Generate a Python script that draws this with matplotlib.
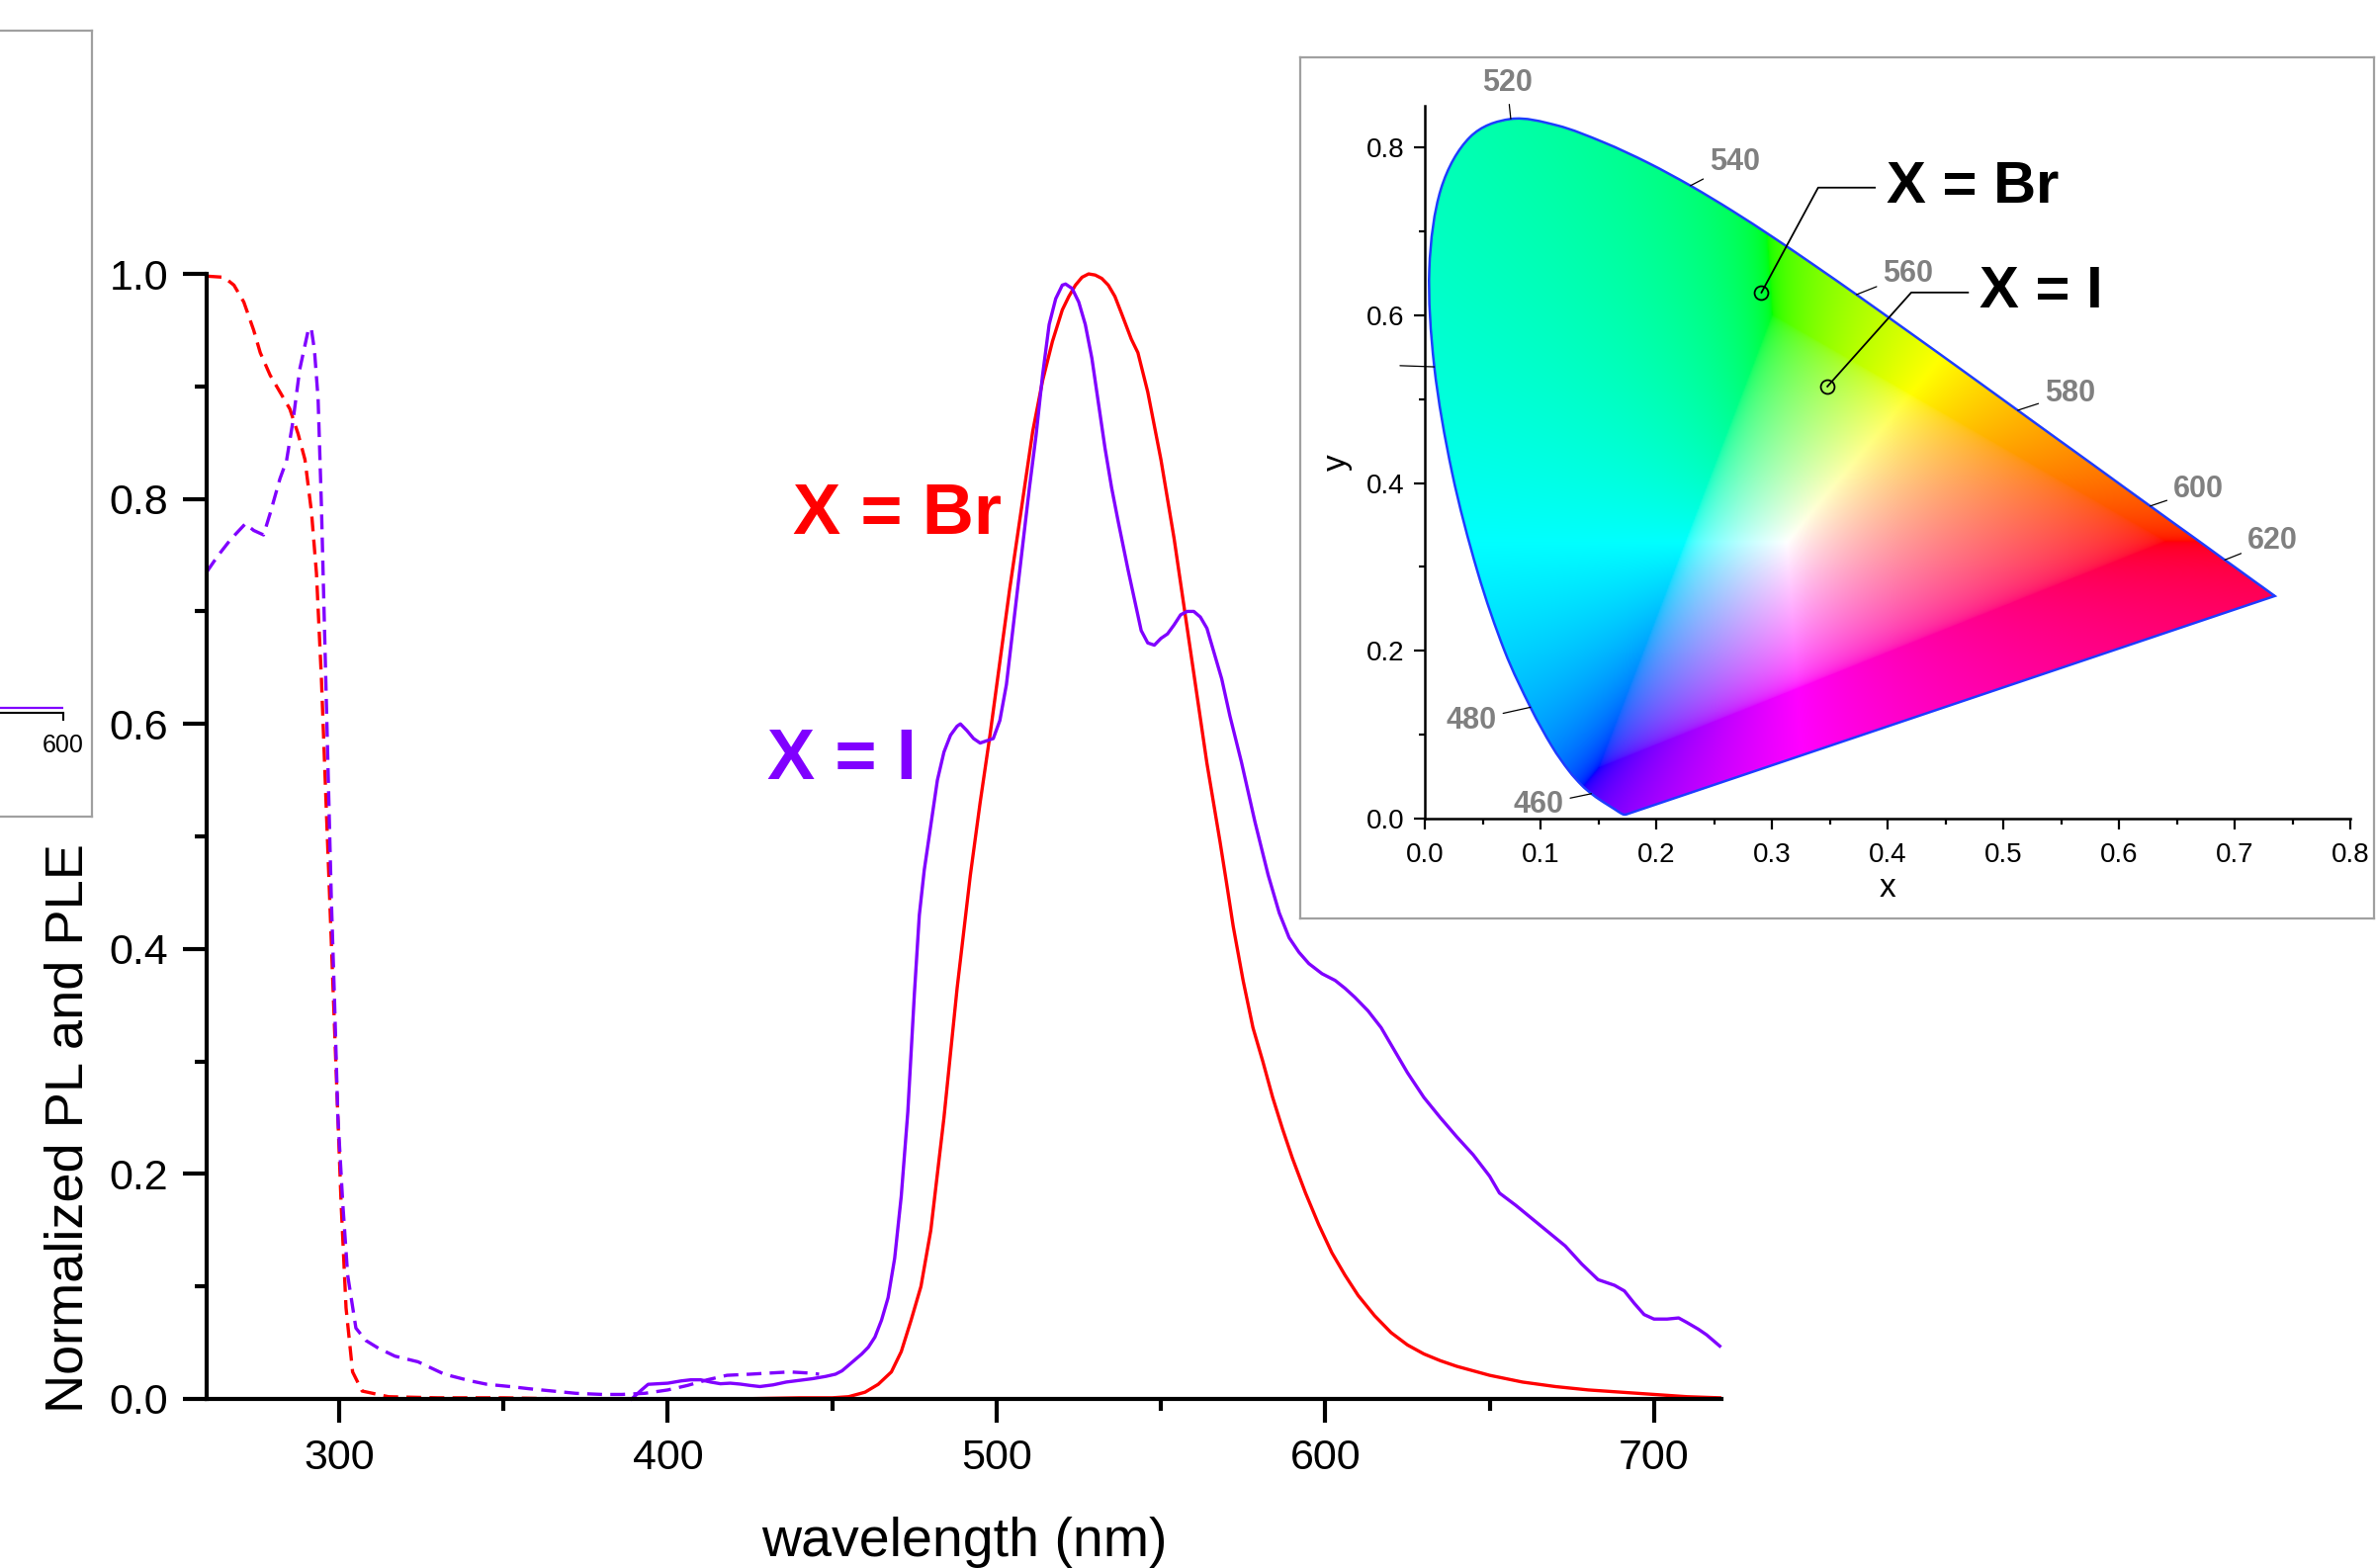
import numpy as np
import matplotlib
matplotlib.use("Agg")
import matplotlib.pyplot as plt
from matplotlib.patches import PathPatch
from matplotlib.path import Path
from matplotlib.ticker import MultipleLocator, FormatStrFormatter

plt.rcParams['font.family'] = ['Liberation Sans', 'DejaVu Sans']

RED = '#ff0000'
PURPLE = '#8000ff'

# ---------------- main data ----------------
pl_br_wl = [390, 400, 420, 440, 450, 455, 460, 464, 468, 471, 474, 477, 480, 484, 488, 492, 495, 498,
            501, 504, 508, 511, 514, 517, 520, 522, 524, 526, 528, 530, 532, 534, 536, 538, 541, 543,
            546, 548, 550, 552, 554, 556, 558, 560, 562, 564, 566, 568, 570, 572, 575, 578, 581, 584,
            587, 590, 594, 598, 602, 606, 610, 615, 620, 625, 630, 635, 640, 645, 650, 660, 670, 680,
            690, 700, 710, 720]
pl_br = [0.0, 0.0, 0.0, 0.001, 0.001, 0.002, 0.006, 0.013, 0.024, 0.042, 0.07, 0.10, 0.15, 0.25, 0.365,
         0.465, 0.53, 0.59, 0.655, 0.72, 0.80, 0.86, 0.905, 0.94, 0.968, 0.98, 0.99, 0.997, 1.0, 0.999,
         0.996, 0.99, 0.98, 0.965, 0.942, 0.93, 0.895, 0.865, 0.835, 0.80, 0.765, 0.725, 0.685, 0.645,
         0.605, 0.565, 0.53, 0.495, 0.458, 0.42, 0.372, 0.33, 0.30, 0.268, 0.24, 0.214, 0.183, 0.155,
         0.13, 0.11, 0.092, 0.074, 0.059, 0.048, 0.04, 0.034, 0.029, 0.025, 0.021, 0.015, 0.011, 0.008,
         0.006, 0.004, 0.002, 0.001]

pl_i_wl = [389, 392, 394, 397, 400, 404, 407, 410, 413, 416, 419, 422, 425, 428, 432, 436, 440, 444, 448,
           451, 453, 455, 457, 459, 461, 463, 465, 467, 469, 471, 473, 475, 476.5, 478, 480, 482, 484, 486,
           488, 489, 491, 493, 495, 497, 499, 501, 503, 505, 508, 510, 512, 514, 516, 518, 520, 521, 523,
           525, 527, 529, 531, 533, 535, 537, 540, 542, 544, 546, 548, 550, 552, 554, 556, 558, 560, 562,
           564, 566, 568.5, 571, 574.5, 578.6, 582.6, 586, 589, 592, 595, 599, 603, 606, 609, 613, 617,
           621, 625, 630, 635, 640, 645, 650, 653, 658, 663, 668, 673, 678, 683, 688, 691, 694, 697, 700,
           704, 707.5, 710, 713.5, 716, 720]
pl_i = [0.0, 0.008, 0.013, 0.0135, 0.014, 0.016, 0.017, 0.017, 0.015, 0.0135, 0.014, 0.0132, 0.012, 0.011,
        0.0125, 0.015, 0.0165, 0.018, 0.020, 0.022, 0.025, 0.03, 0.035, 0.04, 0.046, 0.055, 0.07, 0.09,
        0.125, 0.18, 0.255, 0.36, 0.43, 0.47, 0.51, 0.55, 0.575, 0.59, 0.598, 0.6, 0.594, 0.587, 0.583,
        0.585, 0.587, 0.603, 0.635, 0.685, 0.76, 0.81, 0.856, 0.91, 0.955, 0.978, 0.99, 0.991, 0.987,
        0.975, 0.955, 0.925, 0.885, 0.845, 0.81, 0.78, 0.737, 0.71, 0.683, 0.672, 0.67, 0.676, 0.68,
        0.688, 0.697, 0.70, 0.70, 0.695, 0.685, 0.665, 0.64, 0.607, 0.566, 0.513, 0.466, 0.432, 0.41,
        0.397, 0.387, 0.378, 0.372, 0.365, 0.357, 0.345, 0.33, 0.31, 0.29, 0.268, 0.25, 0.233, 0.217,
        0.198, 0.183, 0.172, 0.16, 0.148, 0.136, 0.12, 0.106, 0.101, 0.096, 0.085, 0.075, 0.071, 0.071,
        0.072, 0.068, 0.062, 0.057, 0.047]

ple_br_wl = [259.7, 265, 268, 271, 274, 276, 279, 282, 285, 287.5, 289.6, 291.6, 293.1, 294.6, 296.1,
             297.6, 299.1, 300.6, 302.1, 304.1, 307, 315, 330, 350, 370, 390]
ple_br = [0.998, 0.997, 0.99, 0.975, 0.95, 0.93, 0.91, 0.895, 0.88, 0.858, 0.835, 0.788, 0.734, 0.641,
          0.524, 0.408, 0.291, 0.174, 0.081, 0.024, 0.007, 0.002, 0.001, 0.001, 0.0, 0.0]

ple_i_wl = [259.7, 263, 267, 271.5, 274, 277, 279, 282, 284, 286, 288, 290.6, 291.5, 292.5, 293.6, 294.6,
            295.6, 296.6, 297.6, 298.6, 299.6, 301.1, 302.6, 305.1, 308.1, 312, 317, 324, 332, 340, 345,
            352, 358, 365, 372, 380, 386, 393, 400, 406, 412, 418, 425, 431, 437, 443, 446]
ple_i = [0.735, 0.749, 0.764, 0.778, 0.772, 0.768, 0.787, 0.818, 0.834, 0.87, 0.915, 0.95, 0.952, 0.932,
         0.889, 0.795, 0.679, 0.563, 0.447, 0.354, 0.252, 0.174, 0.11, 0.063, 0.052, 0.045, 0.038, 0.033,
         0.022, 0.016, 0.013, 0.011, 0.009, 0.007, 0.005, 0.004, 0.004, 0.005, 0.008, 0.012, 0.017,
         0.021, 0.022, 0.023, 0.024, 0.023, 0.022]

# ---------------- CIE 1931 spectral locus ----------------
cie_wl = list(range(380, 705, 5))
cie_x = [0.1741, 0.1740, 0.1738, 0.1736, 0.1733, 0.1730, 0.1726, 0.1721, 0.1714, 0.1703, 0.1689, 0.1669,
         0.1644, 0.1611, 0.1566, 0.1510, 0.1440, 0.1355, 0.1241, 0.1096, 0.0913, 0.0687, 0.0454, 0.0235,
         0.0082, 0.0039, 0.0139, 0.0389, 0.0743, 0.1142, 0.1547, 0.1929, 0.2296, 0.2658, 0.3016, 0.3373,
         0.3731, 0.4087, 0.4441, 0.4788, 0.5125, 0.5448, 0.5752, 0.6029, 0.6270, 0.6482, 0.6658, 0.6801,
         0.6915, 0.7006, 0.7079, 0.7140, 0.7190, 0.7230, 0.7260, 0.7283, 0.7300, 0.7311, 0.7320, 0.7327,
         0.7334, 0.7340, 0.7344, 0.7346, 0.7347]
cie_y = [0.0050, 0.0050, 0.0049, 0.0049, 0.0048, 0.0048, 0.0048, 0.0048, 0.0051, 0.0058, 0.0069, 0.0086,
         0.0109, 0.0138, 0.0177, 0.0227, 0.0297, 0.0399, 0.0578, 0.0868, 0.1327, 0.2007, 0.2950, 0.4127,
         0.5384, 0.6548, 0.7502, 0.8120, 0.8338, 0.8262, 0.8059, 0.7816, 0.7543, 0.7243, 0.6923, 0.6589,
         0.6245, 0.5896, 0.5547, 0.5202, 0.4866, 0.4544, 0.4242, 0.3965, 0.3725, 0.3514, 0.3340, 0.3197,
         0.3083, 0.2993, 0.2920, 0.2859, 0.2809, 0.2770, 0.2740, 0.2717, 0.2700, 0.2689, 0.2680, 0.2673,
         0.2666, 0.2660, 0.2656, 0.2654, 0.2653]

locus_labels = ['460', '480', '', '520', '540', '560', '580', '600', '620']
locus_label_wl = [460, 480, 500, 520, 540, 560, 580, 600, 620]
locus_label_x = [0.098, 0.040, -0.025, 0.071, 0.268, 0.418, 0.558, 0.669, 0.733]
locus_label_y = [0.0165, 0.117, 0.540, 0.877, 0.782, 0.649, 0.507, 0.392, 0.331]

sample_names = ['X = Br', 'X = I']
sample_x = [0.291, 0.348]
sample_y = [0.627, 0.515]
sample_label_x = [0.399, 0.4795]
sample_label_y = [0.752, 0.627]

# ---------------- figure ----------------
fig = plt.figure(figsize=(24.03, 15.86), dpi=100)

# remnant of a neighbouring panel on the left edge
frame_l = fig.add_axes([-0.01, 0.4792, 0.0487, 0.5013])
frame_l.set_xticks([]); frame_l.set_yticks([])
for s in frame_l.spines.values():
    s.set_color('#a0a0a0'); s.set_linewidth(1.6)
ax_r = fig.add_axes([-0.05, 0.5454, 0.07663, 0.1])
ax_r.patch.set_alpha(0)
ax_r.plot([500, 600], [0.03, 0.03], color=PURPLE, lw=1.6)
ax_r.set_xlim(500, 600); ax_r.set_ylim(0, 1)
for k in ['top', 'right', 'left']:
    ax_r.spines[k].set_visible(False)
ax_r.spines['bottom'].set_linewidth(1.5)
ax_r.set_yticks([])
ax_r.set_xticks([600])
ax_r.tick_params(axis='x', direction='out', length=6, width=1.5, labelsize=18, pad=9)

# main axes
ax = fig.add_axes([0.08698, 0.10782, 0.6375, 0.7175])
ax.set_zorder(1)
dash = (0, (4.5, 2.5))
ax.plot(ple_br_wl, ple_br, color=RED, lw=2.4, ls=dash, clip_on=False)
ax.plot(ple_i_wl, ple_i, color=PURPLE, lw=2.4, ls=dash, clip_on=False)
ax.plot(pl_br_wl, pl_br, color=RED, lw=2.4, clip_on=False)
ax.plot(pl_i_wl, pl_i, color=PURPLE, lw=2.4, clip_on=False)
ax.set_xlim(259.7, 720.5)
ax.set_ylim(0, 1.0)
for k in ['top', 'right']:
    ax.spines[k].set_visible(False)
for k in ['left', 'bottom']:
    ax.spines[k].set_linewidth(3)
ax.xaxis.set_major_locator(MultipleLocator(100))
ax.xaxis.set_minor_locator(MultipleLocator(50))
ax.yaxis.set_major_locator(MultipleLocator(0.2))
ax.yaxis.set_minor_locator(MultipleLocator(0.1))
ax.yaxis.set_major_formatter(FormatStrFormatter('%.1f'))
ax.tick_params(which='major', direction='out', length=17, width=3, labelsize=31)
ax.tick_params(which='minor', direction='out', length=8.5, width=3)
ax.tick_params(axis='y', which='major', pad=11)
ax.tick_params(axis='x', which='major', pad=12)
ax.set_xlabel('wavelength (nm)', fontsize=40, labelpad=28)
ax.set_ylabel('Normalized PL and PLE', fontsize=39)
ax.yaxis.set_label_coords(-0.075, 0.241)
ax.text(438, 0.786, 'X = Br', color=RED, fontsize=52, fontweight='bold', va='center', ha='left')
ax.text(430.2, 0.568, 'X = I', color=PURPLE, fontsize=52, fontweight='bold', va='center', ha='left')

# inset frame
frame_in = fig.add_axes([0.5472, 0.4142, 0.4519, 0.5492])
frame_in.set_zorder(2)
frame_in.set_xticks([]); frame_in.set_yticks([])
for s in frame_in.spines.values():
    s.set_color('#a0a0a0'); s.set_linewidth(1.6)

# inset CIE diagram
ax_in = fig.add_axes([0.59967, 0.47793, 0.38952, 0.45486])
ax_in.set_zorder(3)
ax_in.patch.set_alpha(0)
nx, ny = 700, 750
gx = np.linspace(0, 0.8, nx)
gy = np.linspace(0.002, 0.85, ny)
GX, GY = np.meshgrid(gx, gy)
Xc = GX / GY
Zc = (1 - GX - GY) / GY
r = 3.2406 * Xc - 1.5372 - 0.4986 * Zc
g = -0.9689 * Xc + 1.8758 + 0.0415 * Zc
b = 0.0557 * Xc - 0.2040 + 1.0570 * Zc
rgb = np.stack([r, g, b], -1)
rgb = rgb - np.minimum(rgb.min(-1, keepdims=True), 0)   # desaturate out-of-gamut colours
rgb = rgb / np.maximum(rgb.max(-1, keepdims=True), 1e-9)
rgb = np.clip(rgb, 0, 1) ** (1 / 2.2)
im = ax_in.imshow(rgb, origin='lower', extent=[0, 0.8, 0.002, 0.85], aspect='auto',
                  interpolation='bilinear')

# smooth outline through the tabulated locus points (Catmull-Rom as cubic Bezier)
pts = np.column_stack([cie_x, cie_y])
verts = [pts[0]]
codes = [Path.MOVETO]
n = len(pts)
for i in range(n - 1):
    p0 = pts[max(i - 1, 0)]; p1 = pts[i]; p2 = pts[i + 1]; p3 = pts[min(i + 2, n - 1)]
    verts += [p1 + (p2 - p0) / 6, p2 - (p3 - p1) / 6, p2]
    codes += [Path.CURVE4] * 3
verts += [pts[0], pts[0]]
codes += [Path.LINETO, Path.CLOSEPOLY]
locus = PathPatch(Path(verts, codes), facecolor='none', edgecolor='#1e3cff', lw=1.8,
                  transform=ax_in.transData)
ax_in.add_patch(locus)
im.set_clip_path(locus)

for lab, wl, lx, ly in zip(locus_labels, locus_label_wl, locus_label_x, locus_label_y):
    i = cie_wl.index(wl)
    ax_in.annotate(lab, xy=(cie_x[i], cie_y[i]), xytext=(lx, ly), color='#808080',
                   fontsize=22, fontweight='bold', ha='center', va='center',
                   annotation_clip=False,
                   arrowprops=dict(arrowstyle='-', color='black', lw=0.9, shrinkA=3, shrinkB=0))

for name, px, py, lx, ly in zip(sample_names, sample_x, sample_y, sample_label_x, sample_label_y):
    kx = lx - 0.059
    ax_in.plot([px, kx, lx - 0.01], [py, ly, ly], color='black', lw=1.3, clip_on=False)
    ax_in.plot(px, py, 'o', mfc='none', mec='black', ms=10, mew=1.3, clip_on=False)
    ax_in.text(lx, ly, name, fontsize=43, fontweight='bold', color='black', va='center', ha='left')

ax_in.set_xlim(0, 0.8)
ax_in.set_ylim(0, 0.85)
for k in ['top', 'right']:
    ax_in.spines[k].set_visible(False)
for k in ['left', 'bottom']:
    ax_in.spines[k].set_linewidth(1.8)
ax_in.xaxis.set_major_locator(MultipleLocator(0.1))
ax_in.xaxis.set_minor_locator(MultipleLocator(0.05))
ax_in.yaxis.set_major_locator(MultipleLocator(0.2))
ax_in.yaxis.set_minor_locator(MultipleLocator(0.1))
ax_in.xaxis.set_major_formatter(FormatStrFormatter('%.1f'))
ax_in.yaxis.set_major_formatter(FormatStrFormatter('%.1f'))
ax_in.tick_params(which='major', direction='out', length=8, width=1.6, labelsize=20, pad=7)
ax_in.tick_params(axis='x', which='major', pad=9)
ax_in.tick_params(which='minor', direction='out', length=4, width=1.6)
ax_in.set_xlabel('x', fontsize=24, labelpad=4)
ax_in.set_ylabel('y', fontsize=24, labelpad=10)

fig.savefig('out.png', dpi=100)
